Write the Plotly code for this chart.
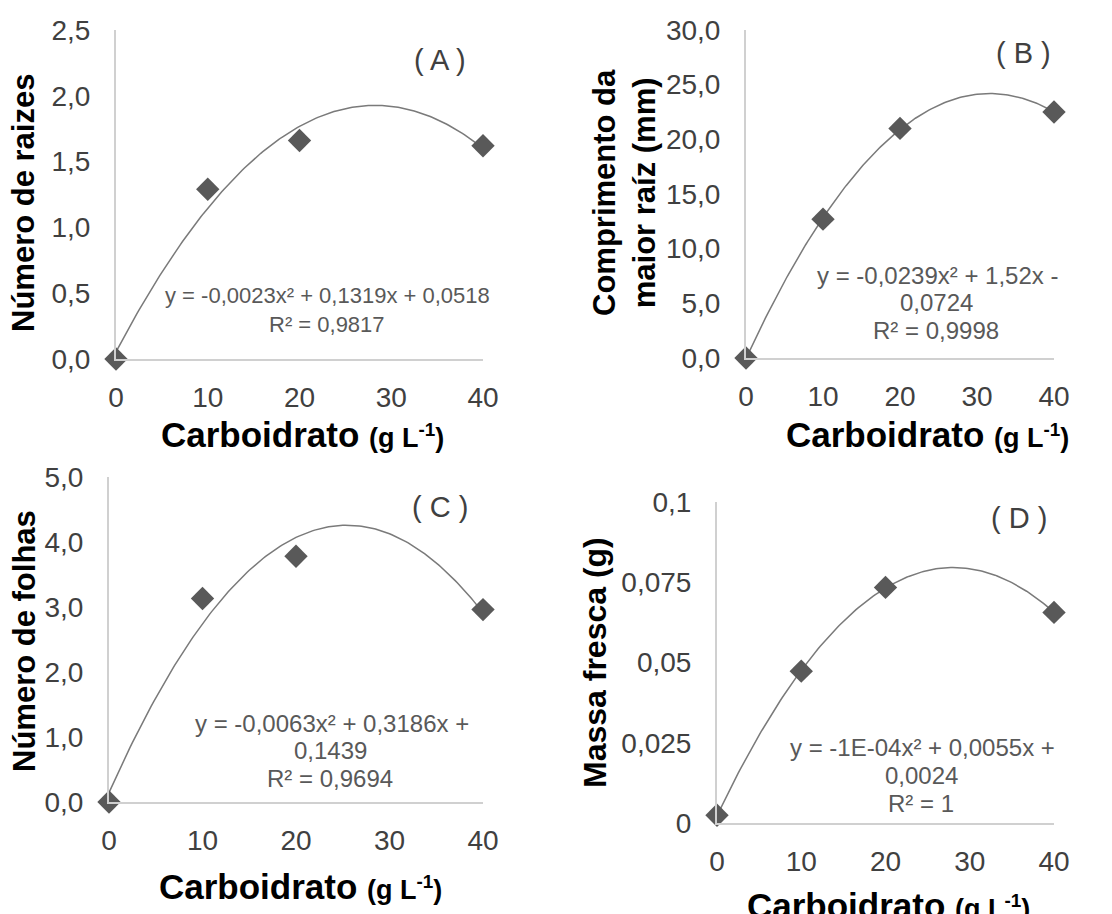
import numpy as np
import plotly.graph_objects as go

W, H = 1112, 914

# ---------------- data ----------------
carboidrato = [0, 10, 20, 40]
x_ticks = [0, 10, 20, 30, 40]

numero_raizes = [0.0, 1.29, 1.66, 1.62]          # (A)
comprimento_raiz = [0.0, 12.7, 21.0, 22.5]       # (B)
numero_folhas = [0.0, 3.13, 3.78, 2.96]          # (C)
massa_fresca = [0.0024, 0.0473, 0.0734, 0.0656]  # (D)

panel_labels = ["( A )", "( B )", "( C )", "( D )"]
y_titles = ["Número de raizes", "Comprimento da<br>maior raíz (mm)",
            "Número de folhas", "Massa fresca (g)"]
x_title = "<b>Carboidrato <span style='font-size:27px'>(g L<sup>-1</sup>)</span></b>"

eq_A = ["y = -0,0023x² + 0,1319x + 0,0518", "R² = 0,9817"]
eq_B = ["y = -0,0239x² + 1,52x -", "0,0724", "R² = 0,9998"]
eq_C = ["y = -0,0063x² + 0,3186x +", "0,1439", "R² = 0,9694"]
eq_D = ["y = -1E-04x² + 0,0055x +", "0,0024", "R² = 1"]

y_ranges = [[0, 2.5], [0, 30], [0, 5], [0, 0.1]]
y_dticks = [0.5, 5, 1, 0.025]
y_formats = [".1f", ".1f", ".1f", ""]

# ---------------- layout geometry (pixels) ----------------
# (left, right, top, bottom) of each plot area
boxes = [(116, 483, 30, 359), (746, 1054, 30, 358),
         (109, 483, 477, 802), (717, 1054, 502, 823)]


def px(x):
    return x / W


def py(y):
    return 1 - y / H


FONT = "Arial, Liberation Sans, sans-serif"
TICK_COLOR = "#404040"
EQ_COLOR = "#595959"
AXIS_COLOR = "#d0d0d0"

fig = go.Figure()
series = [numero_raizes, comprimento_raiz, numero_folhas, massa_fresca]

xs_fit = np.linspace(0, 40, 161)
for i, ys in enumerate(series):
    n = "" if i == 0 else str(i + 1)
    coef = np.polyfit(carboidrato, ys, 2)
    fig.add_trace(go.Scatter(
        x=xs_fit, y=np.polyval(coef, xs_fit), mode="lines",
        line=dict(color="#7a7a7a", width=1.5), xaxis="x" + n, yaxis="y" + n,
        showlegend=False, hoverinfo="skip", cliponaxis=False))
    fig.add_trace(go.Scatter(
        x=carboidrato, y=ys, mode="markers",
        marker=dict(symbol="diamond", size=18, color="#595959"),
        xaxis="x" + n, yaxis="y" + n, showlegend=False, cliponaxis=False))

layout = dict(
    width=W, height=H, margin=dict(l=0, r=0, t=0, b=0, autoexpand=False),
    paper_bgcolor="white", plot_bgcolor="white", separators=",.",
    font=dict(family=FONT, color=TICK_COLOR), showlegend=False,
)

annotations = []
for i, (l, r, t, b) in enumerate(boxes):
    n = "" if i == 0 else str(i + 1)
    layout["xaxis" + n] = dict(
        domain=[px(l), px(r)], anchor="y" + n, range=[0, 40],
        tickvals=x_ticks, showgrid=False, zeroline=False, automargin=False,
        showline=True, linecolor=AXIS_COLOR, linewidth=2,
        ticks="", tickfont=dict(size=28, color=TICK_COLOR, family=FONT),
        ticklabelstandoff=12, fixedrange=True)
    layout["yaxis" + n] = dict(
        domain=[py(b), py(t)], anchor="x" + n, range=y_ranges[i],
        dtick=y_dticks[i], tick0=0, tickformat=y_formats[i],
        showgrid=False, zeroline=False, automargin=False,
        showline=True, linecolor=AXIS_COLOR, linewidth=2,
        ticks="", tickfont=dict(size=28, color=TICK_COLOR, family=FONT),
        ticklabelstandoff=18, fixedrange=True)

# x titles
for (cx, cy) in [(302, 435), (927, 435), (300, 886), (888, 905)]:
    annotations.append(dict(
        x=px(cx), y=py(cy), xref="paper", yref="paper", showarrow=False,
        text=x_title, xanchor="center", yanchor="middle",
        font=dict(size=35, color="black", family=FONT)))

# y titles
for (cx, cy, sz, title) in [(24, 203, 31, y_titles[0]), (625, 192, 31, y_titles[1]),
                            (24, 641, 31, y_titles[2]), (595, 663, 32, y_titles[3])]:
    annotations.append(dict(
        x=px(cx), y=py(cy), xref="paper", yref="paper", showarrow=False,
        text="<b>" + title + "</b>", textangle=-90, xanchor="center",
        yanchor="middle", font=dict(size=sz, color="black", family=FONT)))

# panel labels
for (cx, cy, lab) in [(440, 60, panel_labels[0]), (1023, 53, panel_labels[1]),
                      (440, 507, panel_labels[2]), (1019, 518, panel_labels[3])]:
    annotations.append(dict(
        x=px(cx), y=py(cy), xref="paper", yref="paper", showarrow=False,
        text=lab, xanchor="center", yanchor="middle",
        font=dict(size=29, color=TICK_COLOR, family=FONT)))

# equations
eq_specs = [
    (eq_A, [(327, 295), (327, 325)], FONT, 22),
    (eq_B, [(937, 275), (936, 302), (936, 330)], FONT, 24),
    (eq_C, [(332, 723), (330, 750), (330, 778)], FONT, 24),
    (eq_D, [(922, 747), (921, 775), (921, 803)], FONT, 24),
]
for lines, pos, fam, sz in eq_specs:
    for txt, (cx, cy) in zip(lines, pos):
        annotations.append(dict(
            x=px(cx), y=py(cy), xref="paper", yref="paper", showarrow=False,
            text=txt, xanchor="center", yanchor="middle",
            font=dict(size=sz, color=EQ_COLOR, family=fam)))

layout["annotations"] = annotations
fig.update_layout(**layout)
fig.write_html("out.html",
               config={"displayModeBar": False, "staticPlot": True},
               post_script="document.body.style.margin='0';"
                           "document.body.style.overflow='hidden';")
